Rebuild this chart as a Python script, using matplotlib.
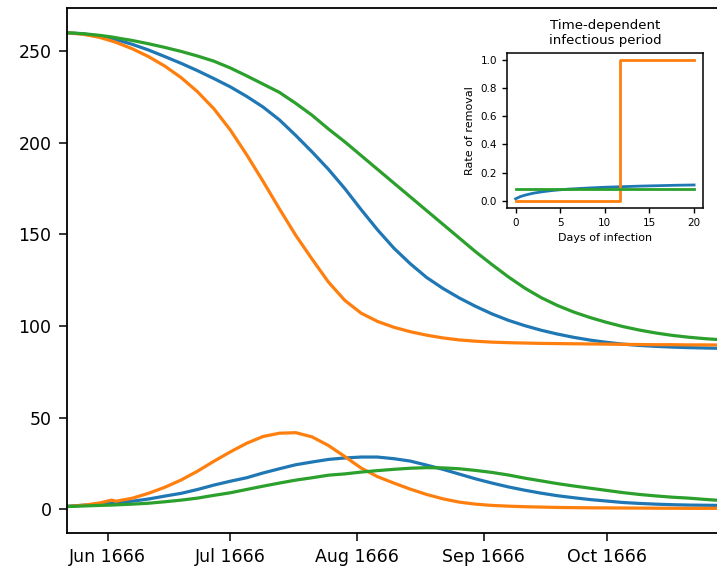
import datetime

import matplotlib

matplotlib.use("Agg")
import matplotlib.dates as mdates
import matplotlib.pyplot as plt

# Main panel: susceptible and infected curves for three removal models
start_date = datetime.datetime(1666, 5, 22)
day_offsets = [0, 4, 8, 11, 12, 16, 20, 24, 28, 32, 36, 40, 44, 48, 52, 56, 60, 64, 68,
               72, 76, 80, 84, 88, 92, 96, 100, 104, 108, 112, 116, 120, 124, 128, 132,
               136, 140, 144, 148, 152, 156, 160]

susceptible_blue = [260, 259.4, 258.2, 256.8, 256.3, 253.7, 250.6, 247, 243.3, 239.3, 235,
                    230.5, 225.3, 219.5, 212.5, 204, 195, 185.5, 175, 163.5, 152.5, 142.5,
                    134, 126.5, 120.5, 115.3, 110.7, 106.6, 103.1, 100.2, 97.7, 95.6, 93.8,
                    92.3, 91.1, 90.1, 89.4, 88.9, 88.5, 88.2, 88, 87.8]
susceptible_orange = [260, 259.2, 257.5, 255.5, 254.8, 251.3, 247, 241.8, 235.5, 227.8, 218.5,
                      207, 193.5, 179, 164, 149.5, 136.5, 124, 114, 107, 102.5, 99.3,
                      96.9, 95, 93.5, 92.4, 91.7, 91.2, 90.9, 90.7, 90.5, 90.4, 90.3, 90.2,
                      90.1, 90, 89.9, 89.8, 89.8, 89.7, 89.7, 89.6]
susceptible_green = [260, 259.5, 258.6, 257.7, 257.3, 255.8, 254, 252, 249.8, 247.3, 244.5,
                     240.8, 236.5, 232, 227.5, 221.5, 215, 207.5, 200.5, 193, 185.5, 178,
                     170.5, 163, 155.5, 148, 140.5, 133.5, 126.8, 120.7, 115.5, 111.2, 107.6,
                     104.6, 102, 99.7, 97.8, 96.2, 94.9, 93.9, 93.1, 92.5]

infected_blue = [1.6, 2.2, 2.8, 3.3, 3.5, 4.4, 5.6, 7.2, 8.7, 10.8, 13.2, 15.3, 17.2, 19.8,
                 22.1, 24.3, 25.8, 27.2, 28.0, 28.5, 28.5, 27.6, 26.3, 24.1, 21.8, 19.2,
                 16.6, 14.3, 12.2, 10.4, 8.8, 7.4, 6.3, 5.3, 4.5, 3.7, 3.2, 2.8, 2.5, 2.3,
                 2.2, 2.1]
infected_orange = [1.5, 2.2, 3.4, 5.0, 4.4, 6.0, 8.7, 12.0, 16.0, 20.8, 26.2, 31.3, 36.0,
                   39.7, 41.5, 41.8, 39.5, 34.8, 28.8, 22.5, 17.8, 14.3, 11.0, 8.1, 5.7, 3.9,
                   2.8, 2.1, 1.7, 1.4, 1.2, 1.0, 0.9, 0.8, 0.75, 0.7, 0.65, 0.6, 0.55, 0.5,
                   0.5, 0.5]
infected_green = [1.5, 1.8, 2.1, 2.3, 2.4, 2.8, 3.3, 4.1, 5.0, 6.1, 7.6, 9.0, 10.8, 12.6,
                  14.3, 15.9, 17.2, 18.6, 19.3, 20.3, 21.1, 21.8, 22.4, 22.7, 22.6, 22.1,
                  21.2, 20.1, 18.7, 17.0, 15.5, 14.0, 12.7, 11.5, 10.3, 9.1, 8.1, 7.3, 6.6,
                  6.1, 5.4, 4.8]

# Inset: rate of removal against days of infection
inset_days_blue = [0, 0.5, 1, 2, 3, 4, 5, 6, 8, 10, 12, 14, 16, 18, 20]
removal_blue = [0.015, 0.03, 0.04, 0.055, 0.065, 0.073, 0.079, 0.084, 0.091, 0.097,
                0.101, 0.105, 0.108, 0.111, 0.113]
inset_days_orange = [0, 11.7, 20]
removal_orange = [0, 1, 1]
inset_days_green = [0, 20]
removal_green = [0.083, 0.083]

dates = [start_date + datetime.timedelta(days=d) for d in day_offsets]

fig = plt.figure(figsize=(7.17, 5.72), dpi=100)
ax = fig.add_axes([0.093, 0.068, 0.924, 0.918])

ax.plot(dates, susceptible_blue, color="C0", lw=2.3)
ax.plot(dates, susceptible_orange, color="C1", lw=2.3)
ax.plot(dates, susceptible_green, color="C2", lw=2.3)
ax.plot(dates, infected_blue, color="C0", lw=2.3)
ax.plot(dates, infected_orange, color="C1", lw=2.3)
ax.plot(dates, infected_green, color="C2", lw=2.3)

ax.set_xlim(start_date, start_date + datetime.timedelta(days=162))
ax.set_ylim(-13, 273.5)
ax.set_yticks([0, 50, 100, 150, 200, 250])
ax.xaxis.set_major_locator(mdates.MonthLocator())
ax.xaxis.set_major_formatter(mdates.DateFormatter("%b %Y"))
ax.tick_params(labelsize=12.5, length=6, width=1.1, pad=5)
for spine in ax.spines.values():
    spine.set_linewidth(1.3)

axin = fig.add_axes([0.7067, 0.6364, 0.2738, 0.2715])
axin.plot(inset_days_blue, removal_blue, color="C0", lw=2)
axin.plot(inset_days_orange, removal_orange, color="C1", lw=2, drawstyle="steps-post")
axin.plot(inset_days_green, removal_green, color="C2", lw=2)
axin.set_xticks([0, 5, 10, 15, 20])
axin.set_yticks([0.0, 0.2, 0.4, 0.6, 0.8, 1.0])
axin.tick_params(labelsize=7.5, length=3.5, width=1.0)
axin.set_xlabel("Days of infection", fontsize=8)
axin.set_ylabel("Rate of removal", fontsize=8)
axin.set_title("Time-dependent\ninfectious period", fontsize=9.6)
for spine in axin.spines.values():
    spine.set_linewidth(1.1)

fig.savefig("out.png", dpi=100)
